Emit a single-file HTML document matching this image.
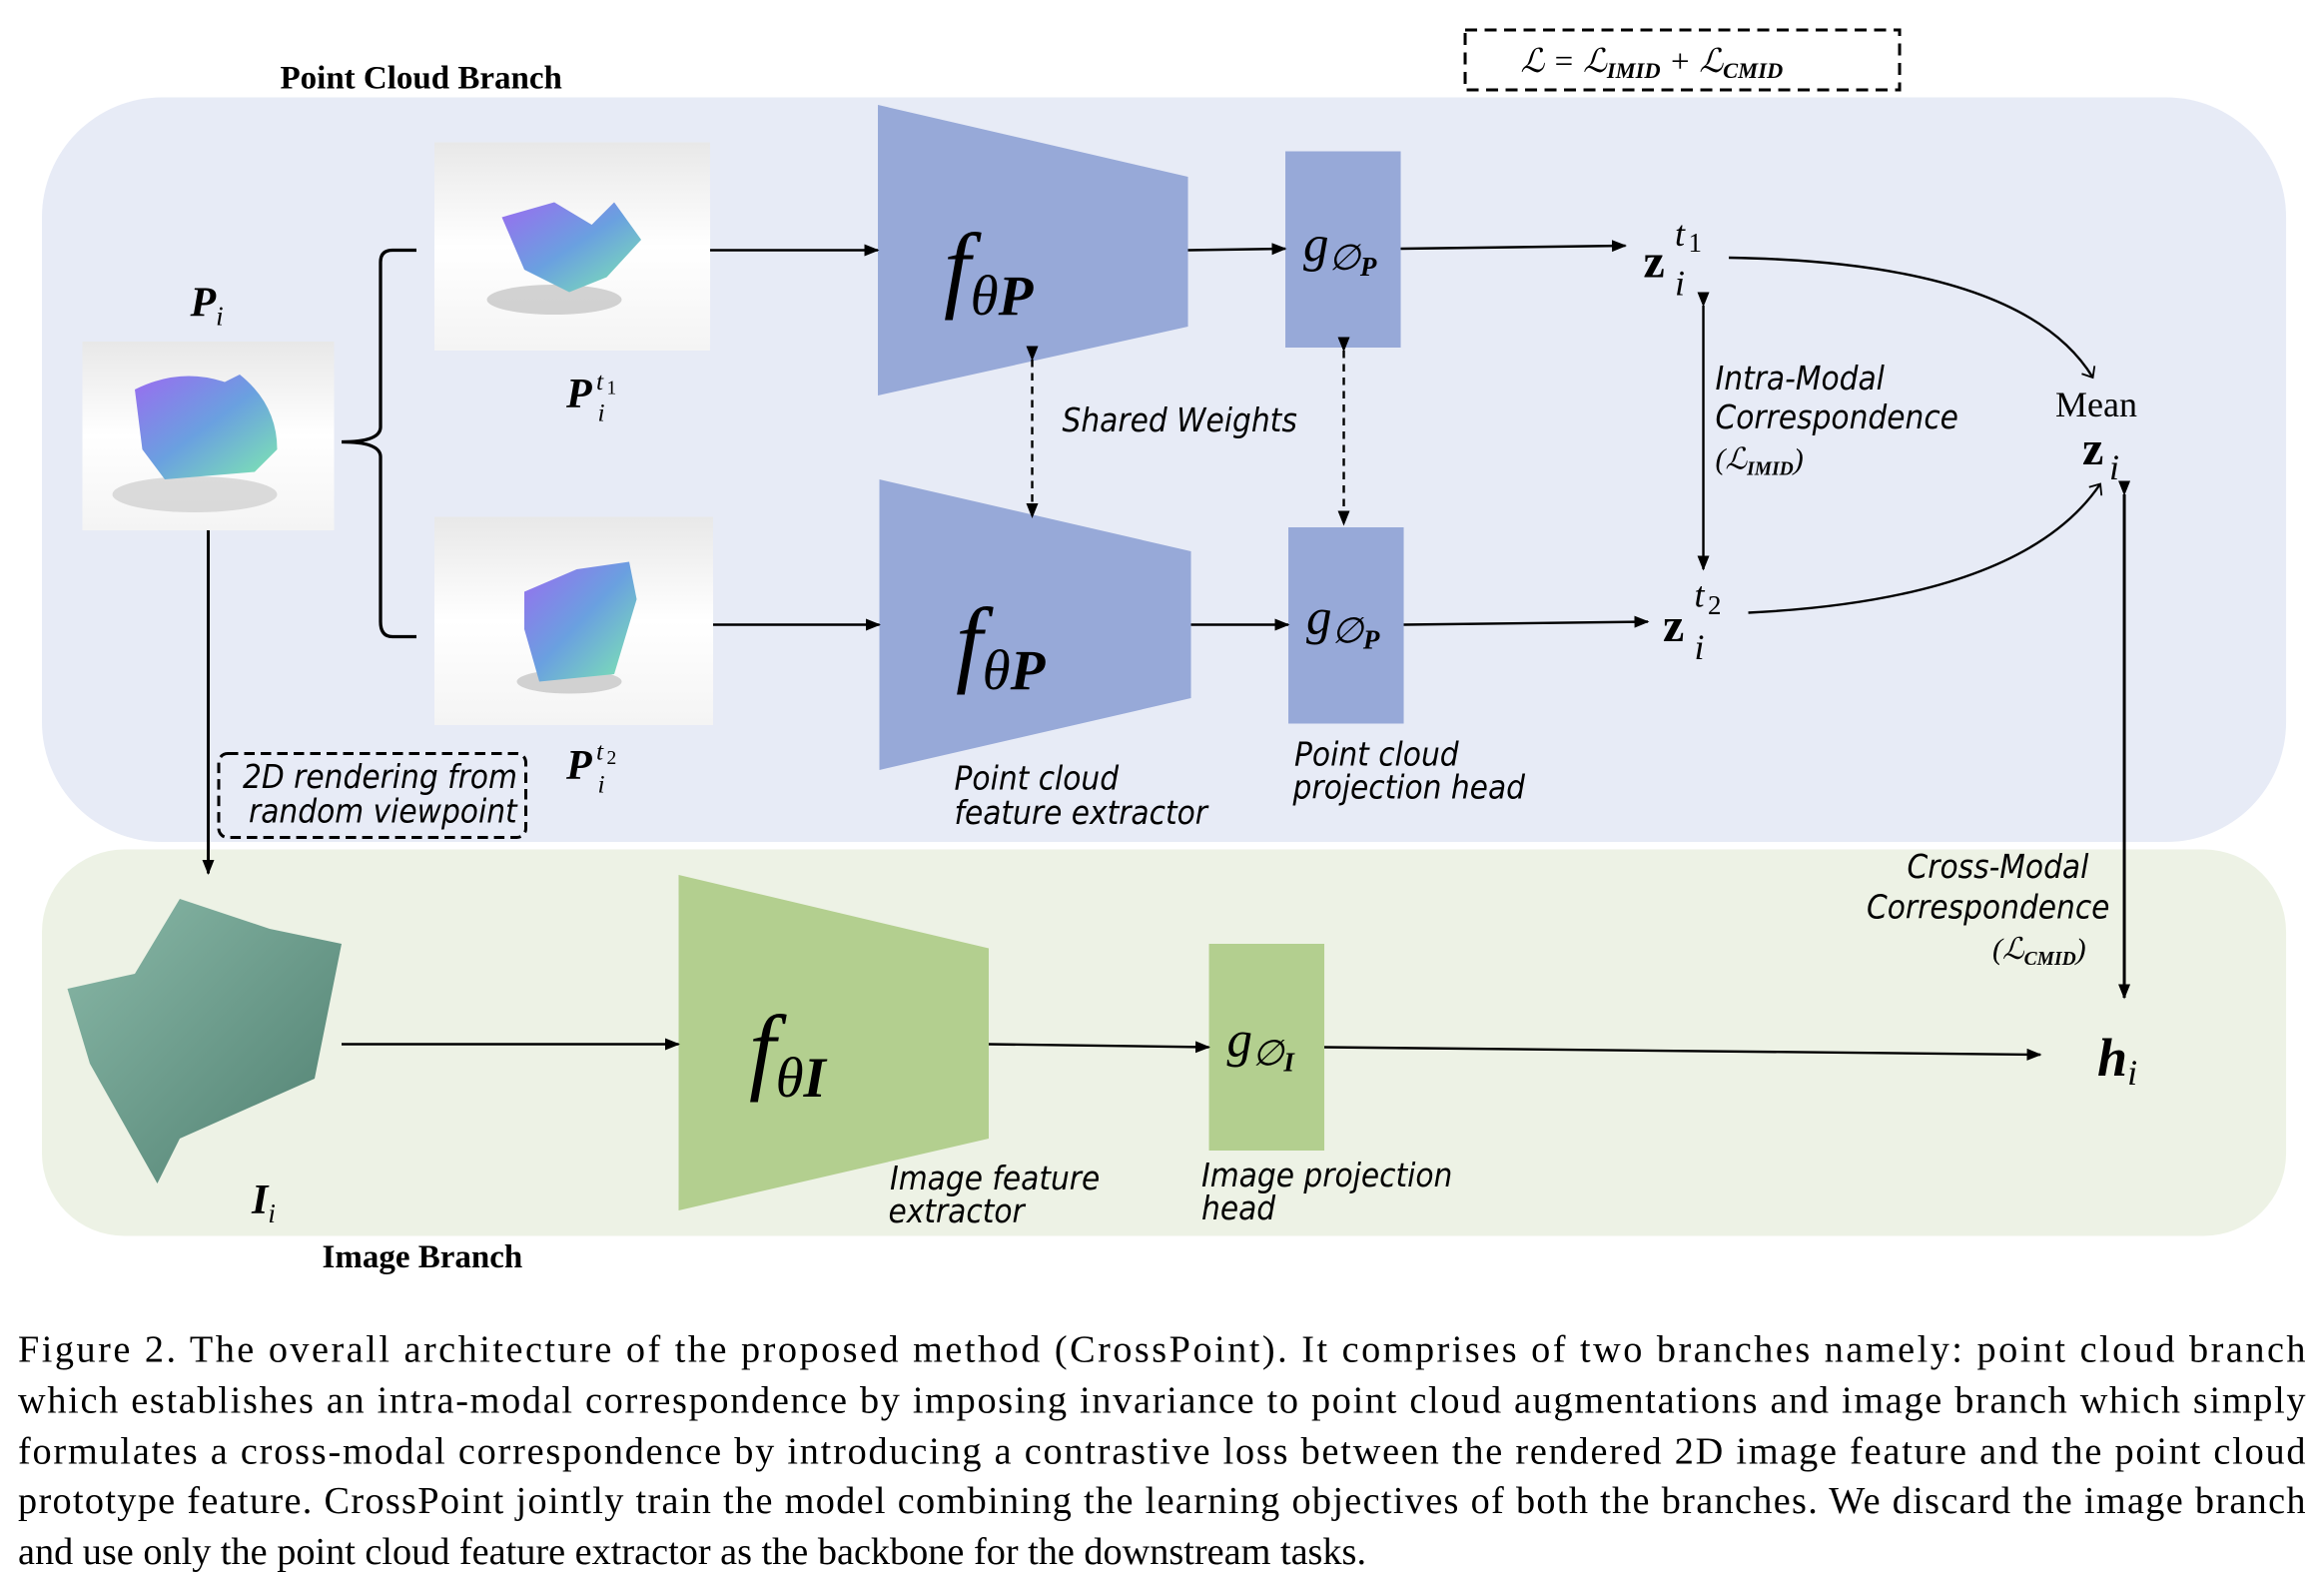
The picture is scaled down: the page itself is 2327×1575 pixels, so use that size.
<!DOCTYPE html>
<html><head><meta charset="utf-8"><style>
html,body{margin:0;padding:0;background:#fff;}
svg{display:block;}
text{font-family:"Liberation Serif",serif;}
.s{font-family:"DejaVu Sans Condensed","DejaVu Sans",sans-serif;font-style:italic;font-size:22px;}
</style></head><body>
<svg width="2327" height="1575" viewBox="0 0 1551.3 1050" preserveAspectRatio="none" xmlns="http://www.w3.org/2000/svg">
<defs>
<marker id="a" markerWidth="10" markerHeight="10" refX="9" refY="5" orient="auto" markerUnits="userSpaceOnUse"><path d="M0,1 L10,5 L0,9 Z" fill="#000"/></marker>
<marker id="o" markerWidth="14" markerHeight="14" refX="7" refY="7" orient="auto" markerUnits="userSpaceOnUse"><path d="M1,2 L7,7 L1,12" fill="none" stroke="#000" stroke-width="1.2"/></marker>
<linearGradient id="bg" x1="0" y1="0" x2="0" y2="1"><stop offset="0" stop-color="#e8e8e8"/><stop offset="0.5" stop-color="#ffffff"/><stop offset="1" stop-color="#f4f4f4"/></linearGradient>
<linearGradient id="pc" x1="0" y1="0" x2="1" y2="1"><stop offset="0" stop-color="#9a6cf0"/><stop offset="0.5" stop-color="#6aa0e0"/><stop offset="1" stop-color="#7ee8b0"/></linearGradient>
<linearGradient id="ch" x1="0" y1="0" x2="1" y2="1"><stop offset="0" stop-color="#8ab9a8"/><stop offset="1" stop-color="#4f7f70"/></linearGradient>
</defs>
<rect x="28" y="65" width="1498" height="497" rx="80" fill="#e7ebf6"/>
<rect x="28" y="567" width="1498" height="258" rx="55" fill="#edf2e5"/>
<text x="187" y="59" font-size="22" font-weight="bold">Point Cloud Branch</text>
<text x="215" y="846" font-size="22" font-weight="bold">Image Branch</text>
<rect x="978" y="20" width="290" height="40" fill="none" stroke="#000" stroke-width="2" stroke-dasharray="8,5"/>
<text x="1015" y="48" font-size="22" font-style="italic">ℒ = ℒ<tspan font-size="15" font-weight="bold" dy="4">IMID</tspan><tspan dy="-4"> + ℒ</tspan><tspan font-size="15" font-weight="bold" dy="4">CMID</tspan></text>

<rect x="55" y="228" width="168" height="126" fill="url(#bg)"/>
<ellipse cx="130" cy="330" rx="55" ry="12" fill="#bbb" opacity="0.5"/>
<path d="M90,260 Q120,245 150,255 L160,250 Q185,270 185,300 L170,315 L110,320 L95,300 Z" fill="url(#pc)"/>
<rect x="290" y="95" width="184" height="139" fill="url(#bg)"/>
<ellipse cx="370" cy="200" rx="45" ry="10" fill="#aaa" opacity="0.5"/>
<path d="M335,145 L370,135 L395,150 L410,135 L428,160 L405,185 L380,195 L350,180 Z" fill="url(#pc)"/>
<rect x="290" y="345" width="186" height="139" fill="url(#bg)"/>
<ellipse cx="380" cy="455" rx="35" ry="8" fill="#aaa" opacity="0.5"/>
<path d="M350,395 L385,380 L420,375 L425,400 L410,450 L360,455 L350,420 Z" fill="url(#pc)"/>
<path d="M45,660 L90,650 L120,600 L180,620 L228,630 L210,720 L120,760 L105,790 L60,710 Z" fill="url(#ch)"/>
<text x="127" y="211" font-size="28" font-weight="bold" font-style="italic">P<tspan font-size="18" font-weight="normal" dy="6">i</tspan></text>
<text x="378" y="272" font-size="28" font-weight="bold" font-style="italic">P</text><text x="398" y="260" font-size="17" font-style="italic">t</text><text x="405" y="263" font-size="13">1</text><text x="399" y="281" font-size="17" font-style="italic">i</text>
<text x="378" y="520" font-size="28" font-weight="bold" font-style="italic">P</text><text x="398" y="507" font-size="17" font-style="italic">t</text><text x="405" y="510" font-size="13">2</text><text x="399" y="529" font-size="17" font-style="italic">i</text>
<text x="168" y="810" font-size="28" font-weight="bold" font-style="italic">I<tspan font-size="18" font-weight="normal" dy="6">i</tspan></text>

<path d="M278,167 L262,167 Q254,167 254,175 L254,285 Q254,295 228,295 Q254,295 254,305 L254,415 Q254,425 262,425 L278,425" fill="none" stroke="#000" stroke-width="2.2"/>

<polygon points="586,70 793,118 793,218 586,264" fill="#97a9d8"/>
<polygon points="587,320 795,368 795,466 587,514" fill="#97a9d8"/>
<polygon points="453,584 660,633 660,760 453,808" fill="#b3cf8f"/>
<text x="630" y="200" font-size="64" font-style="italic">f<tspan font-size="38" dy="10">θ</tspan><tspan font-size="38" font-weight="bold">P</tspan></text>
<text x="638" y="450" font-size="64" font-style="italic">f<tspan font-size="38" dy="10">θ</tspan><tspan font-size="38" font-weight="bold">P</tspan></text>
<text x="500" y="722" font-size="64" font-style="italic">f<tspan font-size="38" dy="10">θ</tspan><tspan font-size="38" font-weight="bold">I</tspan></text>
<rect x="858" y="101" width="77" height="131" fill="#97a9d8"/>
<rect x="860" y="352" width="77" height="131" fill="#97a9d8"/>
<rect x="807" y="630" width="77" height="138" fill="#b3cf8f"/>
<text x="870" y="174" font-size="34" font-style="italic">g<tspan font-size="24" dy="6">∅</tspan><tspan font-size="18" font-weight="bold" dy="4">P</tspan></text>
<text x="872" y="423" font-size="34" font-style="italic">g<tspan font-size="24" dy="6">∅</tspan><tspan font-size="18" font-weight="bold" dy="4">P</tspan></text>
<text x="819" y="705" font-size="34" font-style="italic">g<tspan font-size="24" dy="6">∅</tspan><tspan font-size="18" font-weight="bold" dy="4">I</tspan></text>

<g stroke="#000" stroke-width="1.6" fill="none">
<line x1="474" y1="167" x2="586" y2="167" marker-end="url(#a)"/>
<line x1="476" y1="417" x2="587" y2="417" marker-end="url(#a)"/>
<line x1="793" y1="167" x2="858" y2="166" marker-end="url(#a)"/>
<line x1="795" y1="417" x2="860" y2="417" marker-end="url(#a)"/>
<line x1="935" y1="166" x2="1085" y2="164" marker-end="url(#a)"/>
<line x1="937" y1="417" x2="1100" y2="415" marker-end="url(#a)"/>
<line x1="228" y1="697" x2="453" y2="697" marker-end="url(#a)"/>
<line x1="660" y1="697" x2="807" y2="699" marker-end="url(#a)"/>
<line x1="884" y1="699" x2="1362" y2="704" marker-end="url(#a)"/>
<line x1="139" y1="354" x2="139" y2="583" stroke-width="2" marker-end="url(#a)"/>
<line x1="689" y1="240" x2="689" y2="345" stroke-dasharray="5,4" marker-start="url(#a)" marker-end="url(#a)"/>
<line x1="897" y1="234" x2="897" y2="350" stroke-dasharray="5,4" marker-start="url(#a)" marker-end="url(#a)"/>
<line x1="1137" y1="204" x2="1137" y2="380" marker-start="url(#a)" marker-end="url(#a)"/>
<line x1="1418" y1="330" x2="1418" y2="666" stroke-width="2" marker-start="url(#a)" marker-end="url(#a)"/>
<path d="M1154,172 Q1350,175 1397,252" marker-end="url(#o)"/>
<path d="M1167,409 Q1350,400 1402,323" marker-end="url(#o)"/>
</g>
<rect x="146" y="503" width="205" height="56" rx="6" fill="none" stroke="#000" stroke-width="2" stroke-dasharray="7,4"/>
<text class="s" x="162" y="526">2D rendering from</text>
<text class="s" x="166" y="549">random viewpoint</text>
<text class="s" x="709" y="288" font-size="24">Shared Weights</text>
<text class="s" x="637" y="527">Point cloud</text>
<text class="s" x="637" y="550">feature extractor</text>
<text class="s" x="864" y="511">Point cloud</text>
<text class="s" x="863" y="533">projection head</text>
<text class="s" x="594" y="794">Image feature</text>
<text class="s" x="593" y="816">extractor</text>
<text class="s" x="802" y="792">Image projection</text>
<text class="s" x="802" y="814">head</text>
<text class="s" x="1145" y="260">Intra-Modal</text>
<text class="s" x="1145" y="286">Correspondence</text>
<text x="1145" y="313" font-size="20" font-style="italic">(ℒ<tspan font-size="13" font-weight="bold" dy="4">IMID</tspan><tspan dy="-4">)</tspan></text>
<text class="s" x="1273" y="586">Cross-Modal</text>
<text class="s" x="1246" y="613">Correspondence</text>
<text x="1330" y="640" font-size="20" font-style="italic">(ℒ<tspan font-size="13" font-weight="bold" dy="4">CMID</tspan><tspan dy="-4">)</tspan></text>
<text x="1372" y="278" font-size="24">Mean</text>
<text x="1390" y="310" font-size="32" font-weight="bold">z</text><text x="1408" y="320" font-size="24" font-style="italic">i</text>
<text x="1097" y="185" font-size="32" font-weight="bold">z</text><text x="1118" y="164" font-size="24" font-style="italic">t</text><text x="1127" y="168" font-size="18">1</text><text x="1118" y="197" font-size="24" font-style="italic">i</text>
<text x="1110" y="428" font-size="32" font-weight="bold">z</text><text x="1131" y="405" font-size="24" font-style="italic">t</text><text x="1140" y="410" font-size="18">2</text><text x="1131" y="440" font-size="24" font-style="italic">i</text>
<text x="1400" y="718" font-size="36" font-weight="bold" font-style="italic">h<tspan font-size="24" font-weight="normal" dy="6">i</tspan></text>

<g font-size="25.5">
<text x="12" y="909" textLength="1527" lengthAdjust="spacing">Figure 2.  The overall architecture of the proposed method (CrossPoint).  It comprises of two branches namely:  point cloud branch</text>
<text x="12" y="943" textLength="1527" lengthAdjust="spacing">which establishes an intra-modal correspondence by imposing invariance to point cloud augmentations and image branch which simply</text>
<text x="12" y="977" textLength="1527" lengthAdjust="spacing">formulates a cross-modal correspondence by introducing a contrastive loss between the rendered 2D image feature and the point cloud</text>
<text x="12" y="1010" textLength="1527" lengthAdjust="spacing">prototype feature. CrossPoint jointly train the model combining the learning objectives of both the branches. We discard the image branch</text>
<text x="12" y="1044">and use only the point cloud feature extractor as the backbone for the downstream tasks.</text>
</g>
</svg>
</body></html>
